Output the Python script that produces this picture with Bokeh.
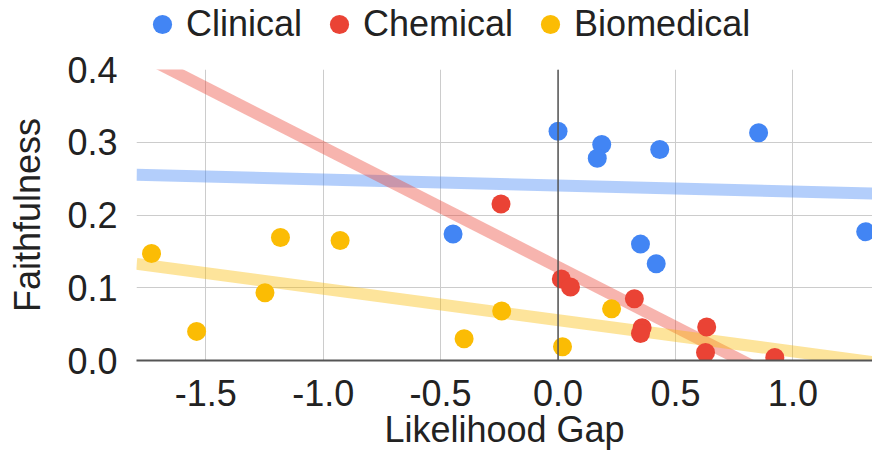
import numpy as np
from bokeh.plotting import figure
from bokeh.layouts import column
from bokeh.models import Range1d, FixedTicker, NumeralTickFormatter, Span, Legend, LegendItem
from bokeh.embed import file_html
from bokeh.resources import INLINE

# ---- data ----
series_names = ["Clinical", "Chemical", "Biomedical"]
series_colors = ["#4285F4", "#EA4335", "#FBBC04"]

clinical_x = [0.000, 0.186, 0.167, 0.433, 0.854, -0.447, 0.351, 0.418, 1.310]
clinical_y = [0.315, 0.297, 0.278, 0.290, 0.313, 0.174, 0.160, 0.133, 0.177]

chemical_x = [-0.243, 0.014, 0.053, 0.325, 0.358, 0.351, 0.633, 0.628, 0.923]
chemical_y = [0.215, 0.112, 0.101, 0.085, 0.045, 0.037, 0.046, 0.011, 0.004]

biomedical_x = [-1.731, -1.539, -1.248, -1.182, -0.928, -0.400, -0.240, 0.019, 0.228]
biomedical_y = [0.147, 0.040, 0.093, 0.169, 0.165, 0.030, 0.068, 0.019, 0.071]

x_ticks = [-1.5, -1.0, -0.5, 0.0, 0.5, 1.0]
y_ticks = [0.0, 0.1, 0.2, 0.3, 0.4]
x_min, x_max = -1.795, 1.339
y_min, y_max = 0.0, 0.4

FONT = "Liberation Sans"
TXT = "#222222"

xs_all = [clinical_x, chemical_x, biomedical_x]
ys_all = [clinical_y, chemical_y, biomedical_y]

# ---------------- main chart ----------------
p = figure(width=872, height=405, output_backend="svg", toolbar_location=None,
           x_range=Range1d(x_min, x_max), y_range=Range1d(y_min, y_max),
           min_border_left=136, min_border_right=0, min_border_top=21, min_border_bottom=93)
p.outline_line_color = None
p.background_fill_color = "white"
p.border_fill_color = "white"

for g in (p.xgrid, p.ygrid):
    g.grid_line_color = "#cccccc"
    g.grid_line_width = 1
p.xgrid.ticker = FixedTicker(ticks=x_ticks)
p.ygrid.ticker = FixedTicker(ticks=y_ticks)

p.xaxis.ticker = FixedTicker(ticks=x_ticks)
p.yaxis.ticker = FixedTicker(ticks=y_ticks)
p.xaxis.formatter = NumeralTickFormatter(format="0.0")
p.yaxis.formatter = NumeralTickFormatter(format="0.0")
for ax in (p.xaxis[0], p.yaxis[0]):
    ax.major_tick_line_color = None
    ax.minor_tick_line_color = None
    ax.major_label_text_font = FONT
    ax.major_label_text_font_size = "36px"
    ax.major_label_text_color = TXT
    ax.axis_label_text_font = FONT
    ax.axis_label_text_font_size = "36px"
    ax.axis_label_text_font_style = "normal"
    ax.axis_label_text_color = TXT
p.yaxis.axis_line_color = None
p.xaxis.axis_line_color = "#555555"
p.xaxis.axis_line_width = 2
p.xaxis.major_label_standoff = 13
p.xaxis.axis_label_standoff = 0
p.yaxis.major_label_standoff = 13
p.yaxis.axis_label_standoff = 16
p.xaxis.axis_label = "Likelihood Gap"
p.yaxis.axis_label = "Faithfulness"

p.add_layout(Span(location=0, dimension="height", line_color="#555555", line_width=1.5))

# trendlines (least-squares fit of each series)
for xs, ys, c in zip(xs_all, ys_all, series_colors):
    m, b = np.polyfit(xs, ys, 1)
    p.line([x_min, x_max], [m * x_min + b, m * x_max + b], line_color=c,
           line_width=12, line_alpha=0.4)

for xs, ys, c in zip(xs_all, ys_all, series_colors):
    p.scatter(xs, ys, size=19, fill_color=c, line_color=None)

# ---------------- legend strip ----------------
lf = figure(width=872, height=48, output_backend="svg", toolbar_location=None,
            x_range=Range1d(x_min, x_max), y_range=Range1d(10, 11),
            min_border=0)
lf.axis.visible = False
lf.grid.visible = False
lf.outline_line_color = None
lf.background_fill_color = "white"
lf.border_fill_color = "white"
leg_renderers = []
for xs, ys, c in zip(xs_all, ys_all, series_colors):
    leg_renderers.append(lf.scatter(xs, ys, size=19, fill_color=c, line_color=None))

legend = Legend(items=[LegendItem(label=n, renderers=[r]) for n, r in zip(series_names, leg_renderers)],
                location=(2, 0), orientation="horizontal",
                glyph_width=48, glyph_height=48, label_standoff=0, spacing=13,
                padding=0, margin=0, border_line_color=None, background_fill_alpha=0,
                label_text_font=FONT, label_text_font_size="36px", label_text_color=TXT)
lf.add_layout(legend, "center")

layout = column(lf, p, spacing=0)
open("out.html", "w").write(file_html(layout, INLINE))
